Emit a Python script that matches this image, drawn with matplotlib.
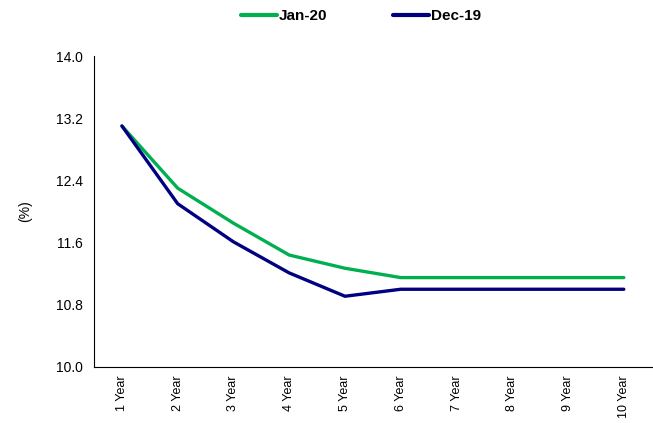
import matplotlib
matplotlib.use("Agg")
import matplotlib.pyplot as plt

plt.rcParams['font.family'] = ['Liberation Sans', 'DejaVu Sans']

tenors = ["1 Year", "2 Year", "3 Year", "4 Year", "5 Year",
          "6 Year", "7 Year", "8 Year", "9 Year", "10 Year"]
jan20 = [13.10, 12.30, 11.85, 11.44, 11.27, 11.15, 11.15, 11.15, 11.15, 11.15]
dec19 = [13.10, 12.10, 11.61, 11.21, 10.91, 11.00, 11.00, 11.00, 11.00, 11.00]
yticks = [10.0, 10.8, 11.6, 12.4, 13.2, 14.0]

fig = plt.figure(figsize=(6.53, 4.23), dpi=100)
ax = fig.add_axes([0.1440, 0.1324, 0.854, 0.7352])

x = list(range(len(tenors)))
ax.plot(x, jan20, color="#00B050", lw=2.4, label="Jan-20", solid_capstyle="round")
ax.plot(x, dec19, color="#000080", lw=2.4, label="Dec-19", solid_capstyle="round")

ax.set_xlim(-0.5, len(tenors) - 0.5)
ax.set_ylim(10.0, 14.0)
ax.set_yticks(yticks)
ax.set_yticklabels([f"{v:.1f}" for v in yticks], fontsize=10)
ax.set_xticks(x)
ax.set_xticklabels(tenors, rotation=90, fontsize=9)
ax.tick_params(axis="y", length=0, pad=8)
ax.tick_params(axis="x", length=0, pad=6)
for s in ("top", "right"):
    ax.spines[s].set_visible(False)
for s in ("left", "bottom"):
    ax.spines[s].set_linewidth(0.8)
ax.set_ylabel("(%)", fontsize=10, labelpad=17)

leg = fig.legend(loc="center", bbox_to_anchor=(0.553, 0.962), ncol=2, frameon=False,
                 prop={"weight": "bold", "size": 11}, handlelength=2.36,
                 handletextpad=0.15, columnspacing=4.3)
for h in leg.get_lines():
    h.set_linewidth(3.0)

fig.savefig("out.png", dpi=100)
